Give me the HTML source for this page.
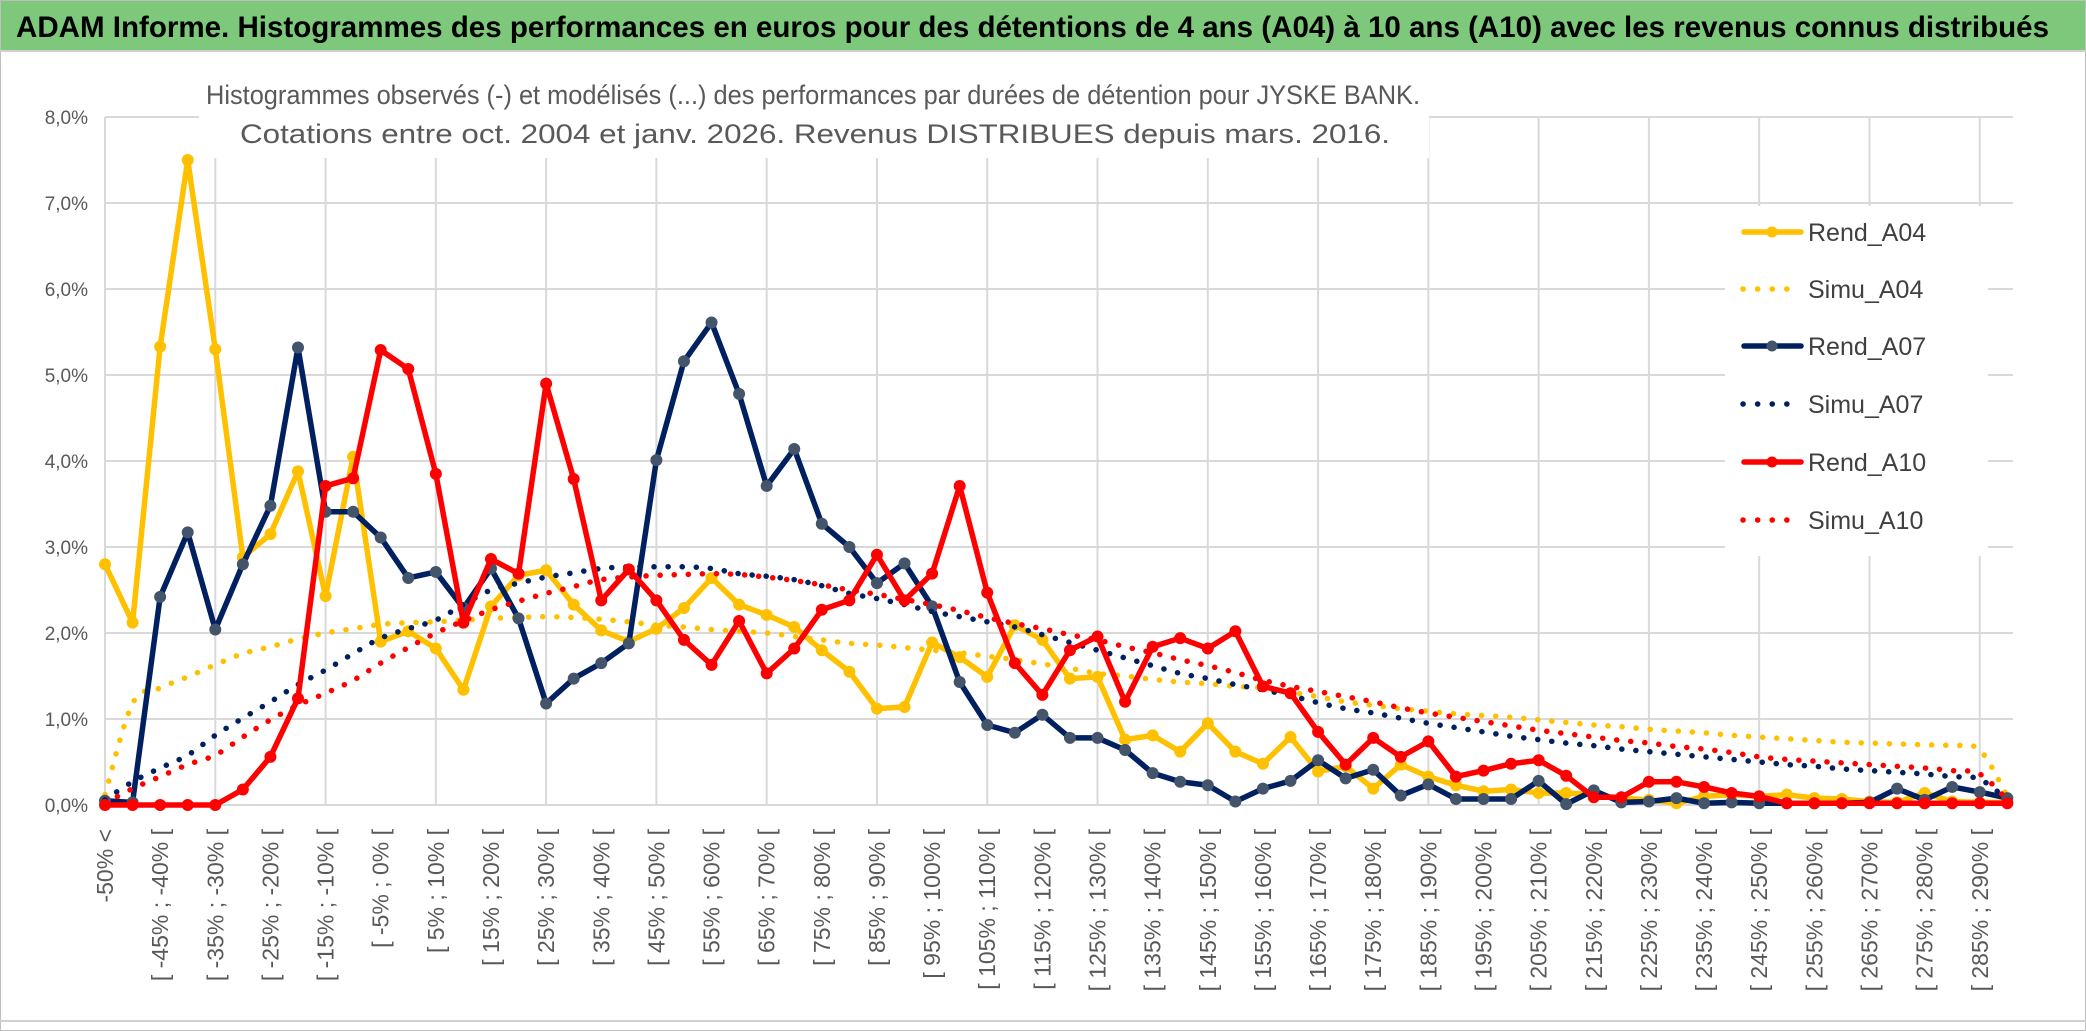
<!DOCTYPE html>
<html><head><meta charset="utf-8"><style>
html,body{margin:0;padding:0;background:#fff;}
svg{display:block;font-family:"Liberation Sans",sans-serif;}
</style></head><body>
<svg id="chart" width="2086" height="1031" viewBox="0 0 2086 1031" xmlns="http://www.w3.org/2000/svg">
<rect x="0" y="0" width="2086" height="1031" fill="#fff" stroke="#bfbfbf" stroke-width="2"/>
<rect x="1" y="1" width="2084" height="49" fill="#7dc87a"/>
<line x1="0" y1="51" x2="2086" y2="51" stroke="#d0d0d0" stroke-width="2"/>
<line x1="0" y1="1021" x2="2086" y2="1021" stroke="#d0d0d0" stroke-width="2"/>
<text x="16" y="37" font-size="30" font-weight="bold" fill="#000" textLength="2033" lengthAdjust="spacingAndGlyphs">ADAM Informe. Histogrammes des performances en euros pour des détentions de 4 ans (A04) à 10 ans (A10) avec les revenus connus distribués</text>
<g id="grid"></g>
<g id="yaxis"></g>
<g id="xaxis"></g>
<g id="series"></g>
<rect x="199" y="70" width="1230" height="88" fill="#fff"/>
<text x="206" y="104" font-size="27" fill="#595959" textLength="1214" lengthAdjust="spacingAndGlyphs">Histogrammes observés (-) et modélisés (...) des performances par durées de détention pour JYSKE BANK.</text>
<text x="240" y="143" font-size="27" fill="#595959" textLength="1150" lengthAdjust="spacingAndGlyphs">Cotations entre oct. 2004 et janv. 2026. Revenus DISTRIBUES depuis mars. 2016.</text>
<g id="legend"></g>
</svg>
<script>
const categoryCount = 70;
const yTicks = [0,1,2,3,4,5,6,7,8];
const yTickLabels = ["0,0%","1,0%","2,0%","3,0%","4,0%","5,0%","6,0%","7,0%","8,0%"];
const seriesNames = ["Rend_A04","Simu_A04","Rend_A07","Simu_A07","Rend_A10","Simu_A10"];
const rendA04 = [2.80,2.12,5.33,7.50,5.30,2.88,3.15,3.88,2.43,4.05,
1.90,2.02,1.82,1.34,2.31,2.67,2.73,2.33,2.03,1.90,
2.05,2.29,2.64,2.33,2.21,2.07,1.80,1.55,1.12,1.14,
1.89,1.72,1.49,2.09,1.92,1.47,1.49,0.76,0.81,0.62,
0.95,0.62,0.48,0.79,0.39,0.45,0.19,0.47,0.33,0.23,
0.16,0.18,0.14,0.14,0.12,0.08,0.06,0.02,0.10,0.12,
0.10,0.12,0.08,0.07,0.04,0.03,0.14,0.04,0.03,0.03];
const rendA07 = [0.05,0.03,2.42,3.17,2.04,2.80,3.48,5.32,3.41,3.41,
3.11,2.64,2.71,2.29,2.75,2.17,1.18,1.47,1.65,1.88,
4.01,5.16,5.61,4.78,3.71,4.14,3.27,3.00,2.58,2.81,
2.31,1.43,0.93,0.84,1.05,0.78,0.78,0.64,0.37,0.27,
0.23,0.04,0.19,0.28,0.52,0.31,0.41,0.11,0.24,0.07,
0.07,0.07,0.28,0.01,0.17,0.03,0.04,0.08,0.02,0.03,
0.02,0.02,0.02,0.02,0.03,0.19,0.06,0.21,0.15,0.08];
const rendA10 = [0,0,0,0,0,0.18,0.56,1.24,3.71,3.80,
5.29,5.07,3.85,2.12,2.86,2.69,4.90,3.79,2.38,2.74,
2.38,1.92,1.63,2.14,1.53,1.82,2.27,2.38,2.91,2.38,
2.69,3.71,2.47,1.65,1.28,1.80,1.96,1.20,1.84,1.94,
1.82,2.02,1.38,1.30,0.85,0.47,0.78,0.56,0.74,0.33,
0.40,0.48,0.52,0.34,0.09,0.09,0.27,0.27,0.21,0.14,
0.10,0.02,0.02,0.02,0.02,0.02,0.02,0.02,0.02,0.02];
const simuA04 = [0.12,1.18,1.36,1.49,1.63,1.76,1.84,1.93,2.00,2.05,2.10,
2.12,2.13,2.15,2.17,2.18,2.19,2.18,2.16,2.13,2.09,
2.07,2.04,2.02,2.00,1.96,1.92,1.88,1.86,1.83,1.80,
1.77,1.73,1.69,1.64,1.59,1.53,1.50,1.46,1.43,1.41,
1.38,1.36,1.31,1.26,1.20,1.16,1.12,1.09,1.06,1.04,
1.02,0.99,0.96,0.93,0.91,0.88,0.86,0.84,0.81,0.79,
0.77,0.75,0.73,0.72,0.71,0.70,0.69,0.64,0.10];
const simuA07 = [0.06,0.27,0.43,0.58,0.81,1.01,1.20,1.40,1.57,1.76,1.94,
2.05,2.15,2.33,2.50,2.58,2.65,2.70,2.75,2.77,2.77,
2.77,2.75,2.69,2.66,2.62,2.55,2.46,2.40,2.33,2.25,
2.19,2.13,2.07,1.98,1.89,1.80,1.71,1.62,1.53,1.47,
1.40,1.34,1.27,1.19,1.12,1.07,1.01,0.95,0.90,0.85,
0.80,0.76,0.72,0.69,0.65,0.62,0.59,0.56,0.53,0.50,
0.47,0.45,0.42,0.40,0.38,0.36,0.33,0.30,0.06];
const simuA10 = [0.02,0.19,0.33,0.47,0.58,0.79,0.99,1.16,1.30,1.45,1.65,
1.83,2.00,2.14,2.27,2.37,2.46,2.54,2.62,2.65,2.67,
2.68,2.69,2.68,2.65,2.61,2.56,2.50,2.45,2.39,2.33,
2.26,2.18,2.11,2.05,1.98,1.92,1.84,1.77,1.69,1.62,
1.54,1.45,1.38,1.32,1.26,1.20,1.13,1.07,1.02,0.97,
0.92,0.87,0.83,0.79,0.75,0.72,0.68,0.65,0.61,0.56,
0.53,0.51,0.49,0.47,0.45,0.43,0.40,0.36,0.06];

const categories = [];
for (let i = 0; i < categoryCount; i++) {
  if (i === 0) categories.push("-50% <");
  else { const a = -50 + 5*(i-1); categories.push("[ " + a + "% ; " + (a+5) + "% ["); }
}

const NS = "http://www.w3.org/2000/svg";
const X0 = 105, STEP = 27.57, Y0 = 805, YU = 86, XR = 2013;
function xPos(i){ return X0 + STEP*i; }
function yPos(v){ return Y0 - YU*v; }
function mk(tag, attrs, parent){
  const e = document.createElementNS(NS, tag);
  for (const k in attrs) e.setAttribute(k, attrs[k]);
  parent.appendChild(e); return e;
}
const grid = document.getElementById('grid');
const yaxis = document.getElementById('yaxis');
const xaxis = document.getElementById('xaxis');
const seriesG = document.getElementById('series');
const legend = document.getElementById('legend');

yTicks.forEach((t, k) => {
  const l = mk('line', {x1:X0, x2:XR, y1:yPos(t), y2:yPos(t), stroke:'#d9d9d9', 'stroke-width':2}, grid);
  
  
  const tx = mk('text', {x:88, y:yPos(t)+7, 'text-anchor':'end', 'font-size':19, fill:'#595959'}, yaxis);
  tx.textContent = yTickLabels[k];
  
  
});
for (let i = 0; i < categoryCount; i += 4) {
  const l = mk('line', {x1:xPos(i), x2:xPos(i), y1:yPos(8), y2:Y0, stroke:'#d9d9d9', 'stroke-width':2}, grid);
  
  
}
for (let i = 0; i < categoryCount; i += 2) {
  const x = xPos(i) + 8, y = 829;
  const tx = mk('text', {x:x, y:y, 'text-anchor':'end', 'font-size':23, fill:'#595959', transform:'rotate(-90 '+x+' '+y+')'}, xaxis);
  tx.textContent = categories[i];
  
  
}

function smoothPath(vals){
  const p = vals.map((v,i)=>[xPos(i), yPos(v)]);
  let d = 'M' + p[0][0] + ',' + p[0][1];
  for (let i = 0; i < p.length-1; i++) {
    const p0 = p[Math.max(0,i-1)], p1 = p[i], p2 = p[i+1], p3 = p[Math.min(p.length-1,i+2)];
    const c1x = p1[0] + (p2[0]-p0[0])/6, c1y = p1[1] + (p2[1]-p0[1])/6;
    const c2x = p2[0] - (p3[0]-p1[0])/6, c2y = p2[1] - (p3[1]-p1[1])/6;
    d += ' C' + c1x + ',' + c1y + ' ' + c2x + ',' + c2y + ' ' + p2[0] + ',' + p2[1];
  }
  return d;
}
function drawRend(vals, color, markerColor, name){
  const pts = vals.map((v,i)=>xPos(i)+','+yPos(v)).join(' ');
  const pl = mk('polyline', {points:pts, fill:'none', stroke:color, 'stroke-width':5.5, 'stroke-linejoin':'round'}, seriesG);
  
  
  vals.forEach((v,i)=>{
    const c = mk('circle', {cx:xPos(i), cy:yPos(v), r:5.5, fill:markerColor, stroke:markerColor}, seriesG);
    
    
  });
}
function drawSimu(vals, color, name){
  const p = mk('path', {d:smoothPath(vals), fill:'none', stroke:color, 'stroke-width':5.5, 'stroke-linecap':'round', 'stroke-dasharray':'0.1 14'}, seriesG);
  
  
}
const YEL = '#ffc000', NAV = '#002060', RED = '#ff0000';
drawRend(rendA04, YEL, YEL, 'rend-a04');
drawSimu(simuA04, YEL, 'simu-a04');
drawRend(rendA07, NAV, '#44546a', 'rend-a07');
drawSimu(simuA07, NAV, 'simu-a07');
drawRend(rendA10, RED, RED, 'rend-a10');
drawSimu(simuA10, RED, 'simu-a10');

const lb = mk('rect', {x:1725, y:206, width:263, height:350, fill:'#fff'}, legend);


const legColors = [YEL, YEL, NAV, NAV, RED, RED];
const legMarker = [YEL, null, '#44546a', null, RED, null];
const legY = [232, 289, 346, 404, 462, 520];
seriesNames.forEach((nm, k) => {
  const g = mk('g', {}, legend);
  
  
  const y = legY[k];
  if (legMarker[k]) {
    mk('line', {x1:1744, x2:1801, y1:y, y2:y, stroke:legColors[k], 'stroke-width':5.5, 'stroke-linecap':'round'}, g);
    mk('circle', {cx:1772, cy:y, r:5.5, fill:legMarker[k]}, g);
  } else {
    mk('line', {x1:1743, x2:1800, y1:y, y2:y, stroke:legColors[k], 'stroke-width':5.5, 'stroke-linecap':'round', 'stroke-dasharray':'0.1 14.5'}, g);
  }
  const t = mk('text', {x:1808, y:y+9, 'font-size':25, fill:'#404040'}, g);
  t.textContent = nm;
});
</script>
</body></html>
